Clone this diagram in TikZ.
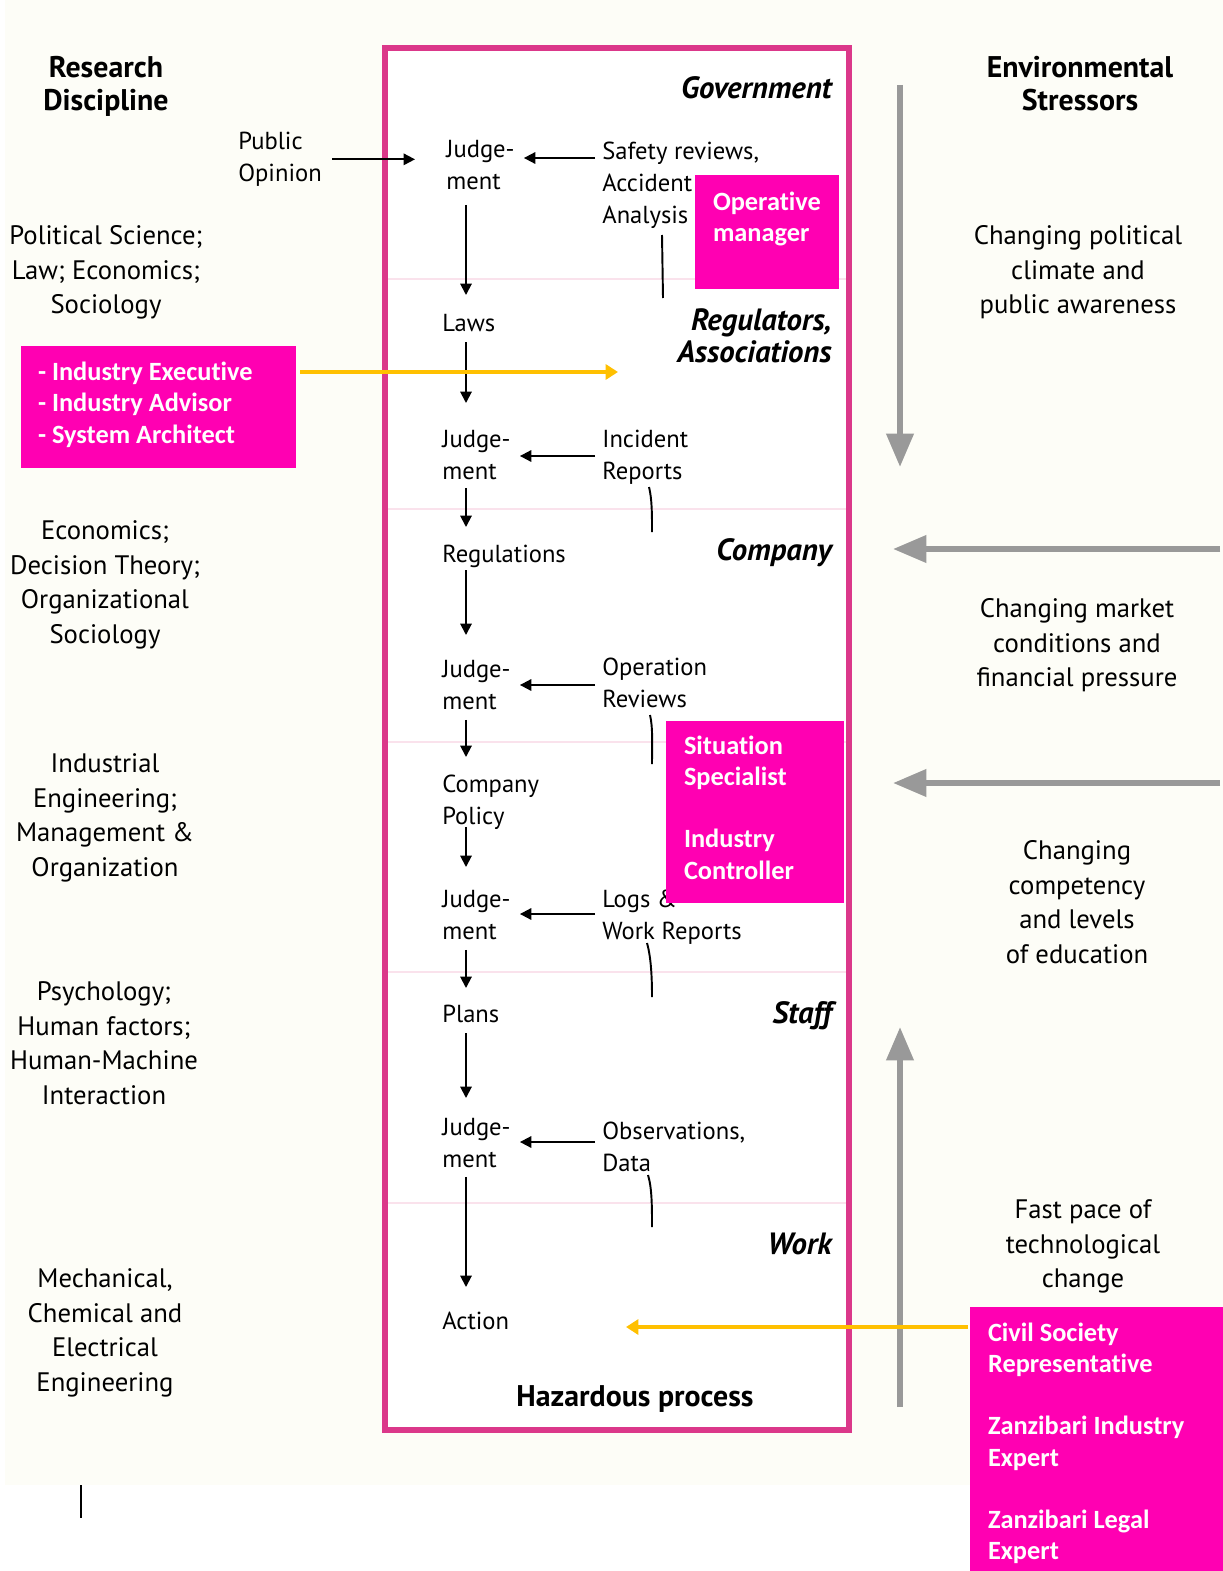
\documentclass[tikz,border=0pt]{standalone}
\usepackage{fontspec}
\setmainfont{PT Sans}
\newfontfamily\rolefont[Ligatures=NoCommon]{Carlito}
\usetikzlibrary{arrows.meta,calc}

\definecolor{framepink}{RGB}{219,56,138}
\definecolor{seppink}{RGB}{250,226,236}
\definecolor{rolepink}{RGB}{255,0,178}
\definecolor{stressgray}{RGB}{153,153,153}
\definecolor{linkyellow}{RGB}{255,192,0}
\definecolor{paper}{RGB}{253,253,247}

\begin{document}
\begin{tikzpicture}[x=0.02cm, y=-0.02cm,
	lbl/.style={inner sep=0pt, anchor=north west, align=left,
		font=\fontsize{14}{18}\selectfont},
	side/.style={inner sep=0pt, anchor=north, align=center,
		font=\fontsize{15.2}{19.8}\selectfont},
	head/.style={inner sep=0pt, anchor=north, align=center,
		font=\bfseries\fontsize{17}{19}\selectfont},
	level/.style={inner sep=0pt, anchor=north east, align=right,
		font=\bfseries\itshape\fontsize{17.5}{18.5}\selectfont},
	rolebox/.style={fill=rolepink, inner sep=0pt},
	roletext/.style={inner sep=0pt, anchor=north west, align=left, text=white,
		font=\rolefont\bfseries\fontsize{15}{17.8}\selectfont},
	flow/.style={line width=1.1pt, -{Triangle[length=6.5pt,width=6.5pt]}},
	stress/.style={stressgray, line width=3.4pt, -{Triangle[length=19pt,width=15pt]}},
	link/.style={linkyellow, line width=2.2pt, -{Triangle[length=7pt,width=8.5pt]}}]
\useasboundingbox (0,0) rectangle (1223,1571);
\fill[paper] (5,0) rectangle (1223,1485);
\draw[line width=1.2pt] (81,1485) -- (81,1518);

% hierarchy frame
\fill[white] (385,48) rectangle (849,1430);
\foreach \y in {279,509,742,972,1203}
	\draw[seppink, line width=1.2pt] (388,\y) -- (846,\y);
\draw[framepink, line width=3.4pt] (385,48) rectangle (849,1430);

\node[level] (gov) at (832,76) {Government};
\node[level] (regs) at (832,308) {Regulators,\\Associations};
\node[level] (comp) at (832,538) {Company};
\node[level] (staff) at (832,1001) {Staff};
\node[level] (work) at (832,1233) {Work};
\node[head] (hazard) at (635,1385) {Hazardous process};

% control chain
\node[lbl] (jud1) at (446,140) {Judge-\\ment};
\node[lbl] (laws) at (442,314) {Laws};
\node[lbl] (jud2) at (442,430) {Judge-\\ment};
\node[lbl] (regl) at (442,545) {Regulations};
\node[lbl] (jud3) at (442,660) {Judge-\\ment};
\node[lbl] (policy) at (442,775) {Company\\Policy};
\node[lbl] (jud4) at (442,890) {Judge-\\ment};
\node[lbl] (plans) at (442,1005) {Plans};
\node[lbl] (jud5) at (442,1118) {Judge-\\ment};
\node[lbl] (action) at (442,1312) {Action};

\node[lbl] (safety) at (602,142) {Safety reviews,\\Accident\\Analysis};
\node[lbl] (incident) at (602,430) {Incident\\Reports};
\node[lbl] (operation) at (602,658) {Operation\\Reviews};
\node[lbl] (logs) at (602,890) {Logs \&\\Work Reports};
\node[lbl] (observ) at (602,1122) {Observations,\\Data};

\node[lbl] (public) at (238,132) {Public\\Opinion};

\coordinate (spine) at (466,0);
\foreach \a/\b/\s/\e in {jud1/laws/15/19, laws/jud2/10/27, jud2/regl/8/18,
		regl/jud3/2/25, jud3/policy/10/18, policy/jud4/-3/23,
		jud4/plans/10/17, plans/jud5/10/20, jud5/action/9/25}
	\draw[flow] ($(\a.south -| spine)+(0,\s)$) -- ($(\b.north -| spine)+(0,-\e)$);

\foreach \src/\dst/\dy in {safety/jud1/16, incident/jud2/26, operation/jud3/27,
		logs/jud4/24, observ/jud5/20}
	\draw[flow] ($(\src.north west)+(-7,\dy)$) -- ($(\src.north west -| \dst.east)+(9,\dy)$);

\draw[flow] ($(public.east)+(10,0)$) -- ($(public.east -| jud1.west)+(-31,0)$);

% feedback from below
\draw[line width=1.1pt] (662,235) -- (663,298);
\draw[line width=1.1pt] (649,487) .. controls +(3,12) and +(0,-18) .. (652,532);
\draw[line width=1.1pt] (650,715) .. controls +(3,12) and +(0,-18) .. (652,764);
\draw[line width=1.1pt] (647,943) .. controls +(4,14) and +(0,-20) .. (652,997);
\draw[line width=1.1pt] (648,1175) .. controls +(4,13) and +(0,-20) .. (652,1227);

% research disciplines
\node[head] (research) at (106,56) {Research\\Discipline};
\node[side] (polsci) at (106,225) {Political Science;\\Law; Economics;\\Sociology};
\node[side] (econ) at (105,520) {Economics;\\Decision Theory;\\Organizational\\Sociology};
\node[side] (indeng) at (105,753) {Industrial\\Engineering;\\Management \&\\Organization};
\node[side] (psych) at (104,981) {Psychology;\\Human factors;\\Human-Machine\\Interaction};
\node[side] (mech) at (105,1268) {Mechanical,\\Chemical and\\Electrical\\Engineering};

% environmental stressors
\node[head] (environ) at (1080,56) {Environmental\\Stressors};
\node[side] (political) at (1078,225) {Changing political\\climate and\\public awareness};
\node[side] (market) at (1077,598) {Changing market\\conditions and\\financial pressure};
\node[side] (compet) at (1077,840) {Changing\\competency\\and levels\\of education};
\node[side] (techno) at (1083,1199) {Fast pace of\\technological\\change};

\draw[stress] (900,85) -- (900,467);
\draw[stress] (1220,549) -- (893,549);
\draw[stress] (1220,783) -- (893,783);
\draw[stress] (900,1407) -- (900,1027);

% stakeholder roles
\node[rolebox, minimum width=2.88cm, minimum height=2.28cm] (opbox) at (767,232) {};
\node[roletext] (optext) at ($(opbox.north west)+(18,17)$) {Operative\\manager};

\node[rolebox, minimum width=5.5cm, minimum height=2.44cm] (exbox) at (158.5,407) {};
\node[roletext] (extext) at ($(exbox.north west)+(17,16)$)
	{- Industry Executive\\- Industry Advisor\\- System Architect};

\node[rolebox, minimum width=3.56cm, minimum height=3.64cm] (sitbox) at (755,812) {};
\node[roletext] (sittext) at ($(sitbox.north west)+(18,15)$)
	{Situation\\Specialist\\[17.5pt]Industry\\Controller};

\node[rolebox, minimum width=5.06cm, minimum height=5.28cm] (civbox) at (1096.5,1439) {};
\node[roletext] (civtext) at ($(civbox.north west)+(18,16)$)
	{Civil Society\\Representative\\[17.5pt]Zanzibari Industry\\Expert\\[17.5pt]Zanzibari Legal\\Expert};

\coordinate (regtarget) at (618,372);
\coordinate (acttarget) at (626,1327);
\draw[link] (exbox.east |- regtarget) ++(4,0) -- (regtarget);
\draw[link] ($(civbox.west |- acttarget)+(-2,0)$) -- (acttarget);
\end{tikzpicture}
\end{document}
